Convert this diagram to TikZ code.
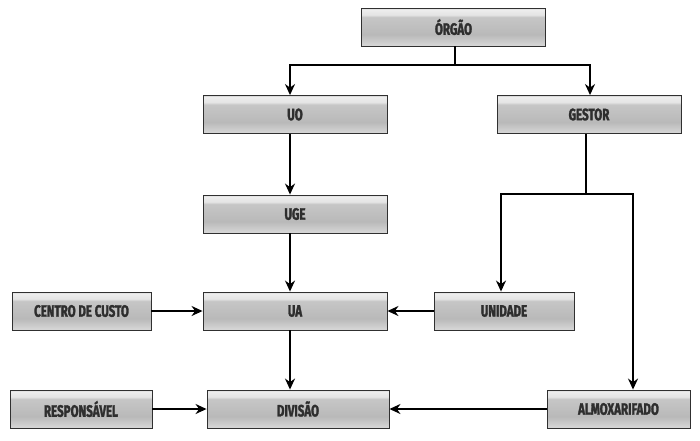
\documentclass[tikz,border=0pt]{standalone}
\usepackage{fontspec}
\setmainfont{Fira Sans}[FakeStretch=0.70, BoldFeatures={FakeBold=1.8}]
\usetikzlibrary{arrows.meta,positioning,calc}
\definecolor{gB}{HTML}{D8D8D8}
\definecolor{gM}{HTML}{B9B9B9}
\definecolor{gM2}{HTML}{C6C6C6}
\definecolor{gH}{HTML}{E4E4E4}
\definecolor{gH2}{HTML}{EEEEEE}
\definecolor{gT}{HTML}{D0D0D0}
\definecolor{txt}{HTML}{2E2E2E}
\definecolor{edge}{HTML}{303030}
\pgfdeclareverticalshading{gloss}{100bp}{color(0bp)=(gB); color(25bp)=(gB); color(40bp)=(gM); color(63bp)=(gM2); color(66bp)=(gH); color(73bp)=(gH2); color(75bp)=(gT); color(100bp)=(gT)}
\tikzset{
  box/.style={draw=edge, line width=0.9pt, shading=gloss, minimum height=38pt, inner sep=0pt,
    font=\bfseries\fontsize{16.5}{18}\selectfont, text=txt},
  wide/.style={box, minimum width=184pt},
  narrow/.style={box, minimum width=141pt},
  arr/.style={line width=1.8pt, -{Stealth[length=11pt,width=10pt]}},
  ln/.style={line width=1.8pt}
}
\begin{document}
\begin{tikzpicture}[x=1pt,y=-1pt]
\useasboundingbox (0,0) rectangle (700,440);
\node[wide] (orgao) at (453.5,27) {ÓRGÃO};
\node[wide] (uo) at (295,114.5) {UO};
\node[wide] (gestor) at (589,114.5) {GESTOR};
\node[wide] (uge) at (295,214) {UGE};
\node[narrow, minimum width=139pt] (cc) at (81.5,311) {CENTRO DE CUSTO};
\node[wide] (ua) at (295,311) {UA};
\node[narrow, minimum width=140pt] (unidade) at (504,311) {UNIDADE};
\node[narrow, minimum width=142pt] (resp) at (81,409) {RESPONSÁVEL};
\node[wide, minimum width=182pt] (divisao) at (298,409) {DIVISÃO};
\node[narrow, minimum width=143pt] (almox) at (618.5,409) {ALMOXARIFADO};
% ORGAO branches
\coordinate (ob) at (455,65);
\draw[ln] ([xshift=1.5pt]orgao.south) -- (ob);
\draw[arr] (ob) -| ([xshift=-5pt]uo.north);
\draw[arr] (ob) -| ([xshift=1pt]gestor.north);
% left column
\draw[arr] ([xshift=-5pt]uo.south) -- ([xshift=-5pt]uge.north);
\draw[arr] ([xshift=-5pt]uge.south) -- ([xshift=-5pt]ua.north);
\draw[arr] ([xshift=-5pt]ua.south) -- ([xshift=-8pt]divisao.north);
% gestor branches
\coordinate (gb) at (586,194);
\draw[ln] ([xshift=-3pt]gestor.south) -- (gb);
\draw[arr] (gb) -| ([xshift=-3pt]unidade.north);
\draw[arr] (gb) -| ([xshift=14.5pt]almox.north);
% horizontals
\draw[arr] (cc.east) -- (ua.west);
\draw[arr] (unidade.west) -- (ua.east);
\draw[arr] (resp.east) -- (divisao.west);
\draw[arr] (almox.west) -- (divisao.east);
\end{tikzpicture}
\end{document}
